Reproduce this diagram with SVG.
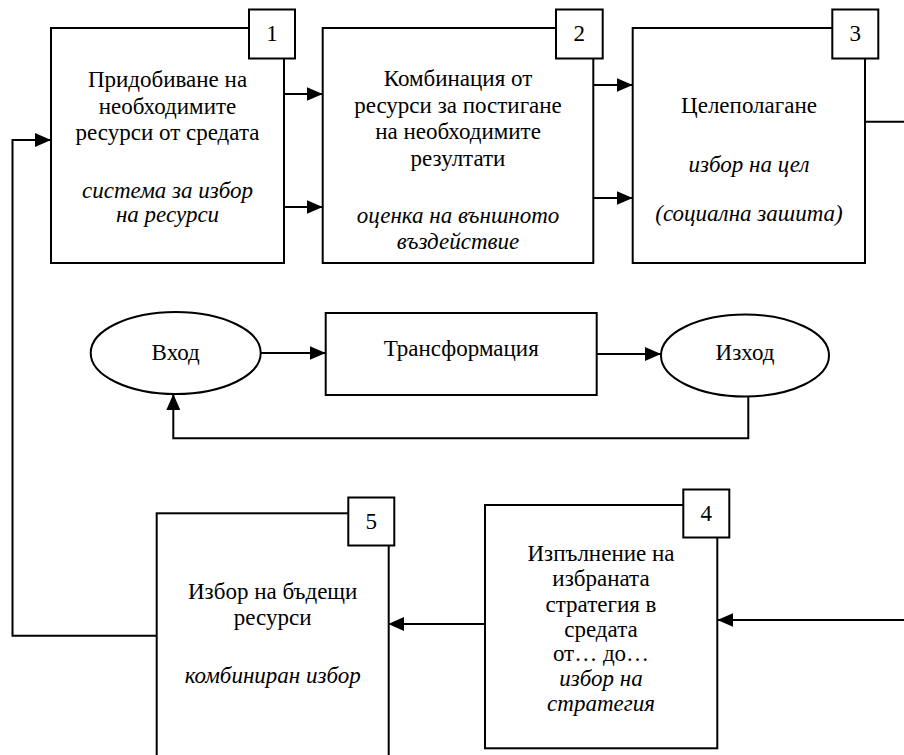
<svg xmlns="http://www.w3.org/2000/svg" width="904" height="755" viewBox="0 0 904 755" font-family="Liberation Serif">
<style>
.box{fill:#fff;stroke:#000;stroke-width:2}
.num{fill:#fff;stroke:#000;stroke-width:2}
.t{font-size:23px;fill:#000;text-anchor:middle}
.i{font-style:italic}
.c{fill:none;stroke:#000;stroke-width:2}
</style>
<defs>
<marker id="ah" markerUnits="userSpaceOnUse" markerWidth="16" markerHeight="14" refX="16" refY="7" orient="auto" viewBox="0 0 16 14">
<path d="M0,0 L16,7 L0,14 z" fill="#000"/>
</marker>
</defs>
<rect width="904" height="755" fill="#fff"/>
<g id="connectors">
<path class="c" d="M284,94 H322.7" marker-end="url(#ah)"/>
<path class="c" d="M284,207 H322.7" marker-end="url(#ah)"/>
<path class="c" d="M593.3,85 H632.7" marker-end="url(#ah)"/>
<path class="c" d="M593.3,198 H632.7" marker-end="url(#ah)"/>
<path class="c" d="M865,121.7 H904"/>
<path class="c" d="M904,620 H717.3" marker-end="url(#ah)"/>
<path class="c" d="M485,624 H388.2" marker-end="url(#ah)"/>
<path class="c" d="M156.7,635.7 H12.5 V140 H51" marker-end="url(#ah)"/>
<path class="c" d="M260.7,353 H325.7" marker-end="url(#ah)"/>
<path class="c" d="M596.7,354 H661" marker-end="url(#ah)"/>
<path class="c" d="M748.3,396.5 V438.3 H173.3 V394" marker-end="url(#ah)"/>
</g>
<g id="node1" font-family="Liberation Serif, serif">
<rect class="box" x="51" y="28" width="233" height="235"/>
<rect class="num" x="249" y="9.5" width="46" height="49"/>
<text class="t" x="272" y="41">1</text>
<text class="t" x="167.5" y="87">Придобиване на</text>
<text class="t" x="167.5" y="113.5">необходимите</text>
<text class="t" x="167.5" y="140">ресурси от средата</text>
<text class="t i" x="167.5" y="198">система за избор</text>
<text class="t i" x="167.5" y="222">на ресурси</text>
</g>
<g id="node2" font-family="Liberation Serif, serif">
<rect class="box" x="322.7" y="28" width="270.6" height="235"/>
<rect class="num" x="556" y="9.5" width="46.7" height="49"/>
<text class="t" x="579.3" y="41">2</text>
<text class="t" x="458" y="86">Комбинация от</text>
<text class="t" x="458" y="112.5">ресурси за постигане</text>
<text class="t" x="458" y="139">на необходимите</text>
<text class="t" x="458" y="165.5">резултати</text>
<text class="t i" x="458" y="223">оценка на външното</text>
<text class="t i" x="458" y="249">въздействие</text>
</g>
<g id="node3" font-family="Liberation Serif, serif">
<rect class="box" x="632.7" y="28" width="232.3" height="235"/>
<rect class="num" x="832.3" y="9.5" width="46" height="49"/>
<text class="t" x="855.3" y="41">3</text>
<text class="t" x="749" y="113">Целеполагане</text>
<text class="t i" x="749" y="172">избор на цел</text>
<text class="t i" x="749" y="221">(социална зашита)</text>
</g>
<g id="node-vhod" font-family="Liberation Serif, serif">
<ellipse class="box" cx="175.7" cy="353" rx="85" ry="41"/>
<text class="t" x="175.7" y="360">Вход</text>
</g>
<g id="node-transformacia" font-family="Liberation Serif, serif">
<rect class="box" x="325.7" y="313" width="271" height="82"/>
<text class="t" x="461.2" y="356">Трансформация</text>
</g>
<g id="node-izhod" font-family="Liberation Serif, serif">
<ellipse class="box" cx="745" cy="355.5" rx="84" ry="41"/>
<text class="t" x="745" y="360">Изход</text>
</g>
<g id="node4" font-family="Liberation Serif, serif">
<rect class="box" x="485" y="505" width="232.3" height="243.3"/>
<rect class="num" x="683.3" y="489.5" width="46" height="48"/>
<text class="t" x="706.3" y="521">4</text>
<text class="t" x="601" y="561">Изпълнение на</text>
<text class="t" x="601" y="586">избраната</text>
<text class="t" x="601" y="612">стратегия в</text>
<text class="t" x="601" y="637">средата</text>
<text class="t" x="601" y="661">от… до…</text>
<text class="t i" x="601" y="686">избор на</text>
<text class="t i" x="601" y="711">стратегия</text>
</g>
<g id="node5" font-family="Liberation Serif, serif">
<rect class="box" x="156.7" y="513.3" width="232" height="300"/>
<rect class="num" x="348.3" y="497.5" width="46" height="48"/>
<text class="t" x="371.3" y="529">5</text>
<text class="t" x="272.7" y="599">Избор на бъдещи</text>
<text class="t" x="272.7" y="625">ресурси</text>
<text class="t i" x="272.7" y="683">комбиниран избор</text>
</g>
</svg>
